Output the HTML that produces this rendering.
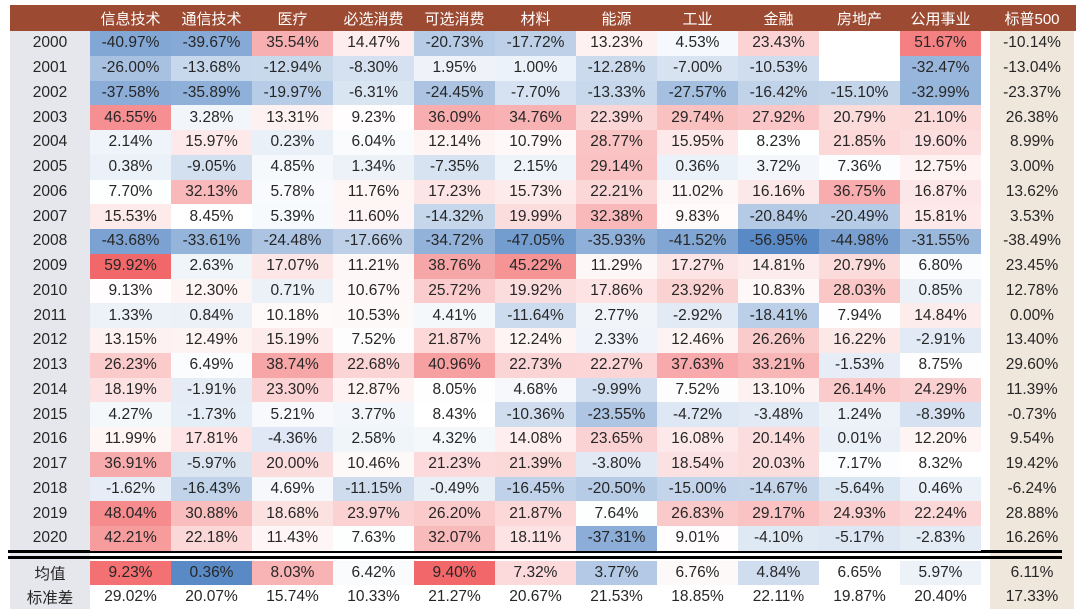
<!DOCTYPE html>
<html><head><meta charset="utf-8"><style>
body{margin:0;width:1080px;height:611px;background:#fff;position:relative;overflow:hidden;font-family:"Liberation Sans","Noto Sans CJK SC",sans-serif;}
.c{position:absolute;display:flex;align-items:center;justify-content:center;font-size:15.5px;color:#262626;box-sizing:border-box;}
.h{color:#fff;font-size:15px;}
</style></head><body>
<div style="position:absolute;left:10px;top:5px;width:1066px;height:26px;background:#9c4a31"></div>
<div style="position:absolute;left:10px;top:31px;width:80px;height:578px;background:#e6e7ec"></div>
<div style="position:absolute;left:990px;top:31px;width:84px;height:578px;background:#efe6dc"></div>
<div style="position:absolute;left:8px;top:550px;width:1054px;height:3px;background:#000"></div>
<div style="position:absolute;left:8px;top:556px;width:1054px;height:3px;background:#000"></div>
<div id="t"></div>
<script>
const heads=["信息技术","通信技术","医疗","必选消费","可选消费","材料","能源","工业","金融","房地产","公用事业"];
const D=[
[2000,-40.97,-39.67,35.54,14.47,-20.73,-17.72,13.23,4.53,23.43,null,51.67,-10.14],
[2001,-26.00,-13.68,-12.94,-8.30,1.95,1.00,-12.28,-7.00,-10.53,null,-32.47,-13.04],
[2002,-37.58,-35.89,-19.97,-6.31,-24.45,-7.70,-13.33,-27.57,-16.42,-15.10,-32.99,-23.37],
[2003,46.55,3.28,13.31,9.23,36.09,34.76,22.39,29.74,27.92,20.79,21.10,26.38],
[2004,2.14,15.97,0.23,6.04,12.14,10.79,28.77,15.95,8.23,21.85,19.60,8.99],
[2005,0.38,-9.05,4.85,1.34,-7.35,2.15,29.14,0.36,3.72,7.36,12.75,3.00],
[2006,7.70,32.13,5.78,11.76,17.23,15.73,22.21,11.02,16.16,36.75,16.87,13.62],
[2007,15.53,8.45,5.39,11.60,-14.32,19.99,32.38,9.83,-20.84,-20.49,15.81,3.53],
[2008,-43.68,-33.61,-24.48,-17.66,-34.72,-47.05,-35.93,-41.52,-56.95,-44.98,-31.55,-38.49],
[2009,59.92,2.63,17.07,11.21,38.76,45.22,11.29,17.27,14.81,20.79,6.80,23.45],
[2010,9.13,12.30,0.71,10.67,25.72,19.92,17.86,23.92,10.83,28.03,0.85,12.78],
[2011,1.33,0.84,10.18,10.53,4.41,-11.64,2.77,-2.92,-18.41,7.94,14.84,0.00],
[2012,13.15,12.49,15.19,7.52,21.87,12.24,2.33,12.46,26.26,16.22,-2.91,13.40],
[2013,26.23,6.49,38.74,22.68,40.96,22.73,22.27,37.63,33.21,-1.53,8.75,29.60],
[2014,18.19,-1.91,23.30,12.87,8.05,4.68,-9.99,7.52,13.10,26.14,24.29,11.39],
[2015,4.27,-1.73,5.21,3.77,8.43,-10.36,-23.55,-4.72,-3.48,1.24,-8.39,-0.73],
[2016,11.99,17.81,-4.36,2.58,4.32,14.08,23.65,16.08,20.14,0.01,12.20,9.54],
[2017,36.91,-5.97,20.00,10.46,21.23,21.39,-3.80,18.54,20.03,7.17,8.32,19.42],
[2018,-1.62,-16.43,4.69,-11.15,-0.49,-16.45,-20.50,-15.00,-14.67,-5.64,0.46,-6.24],
[2019,48.04,30.88,18.68,23.97,26.20,21.87,7.64,26.83,29.17,24.93,22.24,28.88],
[2020,42.21,22.18,11.43,7.63,32.07,18.11,-37.31,9.01,-4.10,-5.17,-2.83,16.26]];
const mean=[9.23,0.36,8.03,6.42,9.40,7.32,3.77,6.76,4.84,6.65,5.97,6.11];
const sd=[29.02,20.07,15.74,10.33,21.27,20.67,21.53,18.85,22.11,19.87,20.40,17.33];
const B=[90,138,198],R=[242,104,106];
function col(v,mn,md,mx){let t,c;if(v<md){t=(md-v)/(md-mn);c=B}else{t=(v-md)/(mx-md);c=R}
return `rgb(${c.map(x=>Math.round(255+(x-255)*t)).join(',')})`;}
let all=[];D.forEach(r=>r.slice(1,12).forEach(v=>{if(v!==null)all.push(v)}));all.sort((a,b)=>a-b);
const gmn=all[0],gmx=all[all.length-1],gmd=all[Math.floor(all.length/2)];
let h='';
const cx=i=>90+i*81;
function cell(x,y,w,hh,txt,bg,cls){h+=`<div class="c ${cls||''}" style="left:${x}px;top:${y}px;width:${w}px;height:${hh}px;${bg?'background:'+bg:''}">${txt}</div>`;}
heads.forEach((s,i)=>cell(cx(i),5,81,26,s,null,'h'));cell(990,5,84,26,'标普500',null,'h');
const f=v=>v.toFixed(2)+'%';
D.forEach((r,j)=>{const y=31+j*24.75;cell(10,y,80,24.75,r[0]);
for(let i=0;i<11;i++){const v=r[i+1];if(v===null)continue;cell(cx(i),y,81,24.75,f(v),col(v,gmn,gmd,gmx));}
cell(990,y,84,24.75,f(r[12]));});
const m=mean.slice(0,11),mmn=Math.min(...m),mmx=Math.max(...m),ms=[...m].sort((a,b)=>a-b),mmd=ms[5];
cell(10,561,80,24,'均值');cell(10,585,80,24,'标准差');
for(let i=0;i<11;i++){cell(cx(i),561,81,24,f(mean[i]),col(mean[i],mmn,mmd,mmx));cell(cx(i),585,81,24,f(sd[i]));}
cell(990,561,84,24,f(mean[11]));cell(990,585,84,24,f(sd[11]));
document.getElementById('t').innerHTML=h;
</script>
</body></html>
